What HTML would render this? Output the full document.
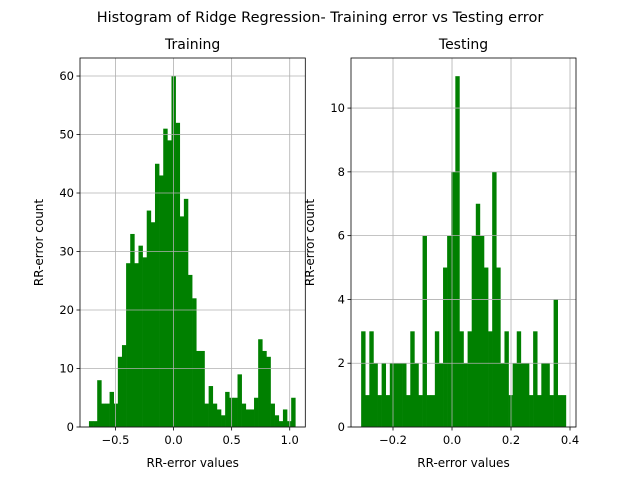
<!DOCTYPE html>
<html><head><meta charset="utf-8"><style>
body{margin:0;background:#fff;}
svg{display:block;font-family:"DejaVu Sans","Liberation Sans",sans-serif;}
</style></head><body>
<svg id="fig" width="640" height="480" viewBox="0 0 640 480" xmlns="http://www.w3.org/2000/svg">
<rect width="640" height="480" fill="#fff"/>
<text x="320" y="22" text-anchor="middle" font-size="14.5">Histogram of Ridge Regression- Training error vs Testing error</text>
</svg>
<script>
const trainCounts=[1,1,8,4,4,6,4,12,14,28,33,28,31,29,37,35,45,43,51,49,60,52,36,39,26,22,13,13,4,7,4,3,2,6,5,5,9,4,3,3,5,15,13,12,4,2,1,3,1,5];
const trainRange=[-0.728,1.048];
const trainXTicks=[-0.5,0.0,0.5,1.0];
const trainXLabels=["−0.5","0.0","0.5","1.0"];
const trainYTicks=[0,10,20,30,40,50,60];
const testCounts=[3,1,3,2,1,2,1,2,2,2,2,1,3,2,1,6,1,1,3,2,5,6,8,11,3,2,3,6,7,6,5,3,8,5,2,3,1,2,3,2,2,1,3,1,2,2,1,4,1,1];
const testRange=[-0.308,0.386];
const testXTicks=[-0.2,0.0,0.2,0.4];
const testXLabels=["−0.2","0.0","0.2","0.4"];
const testYTicks=[0,2,4,6,8,10];
const NS="http://www.w3.org/2000/svg";
const svg=document.getElementById('fig');
function mk(tag,attrs,parent){const e=document.createElementNS(NS,tag);for(const k in attrs)e.setAttribute(k,attrs[k]);(parent||svg).appendChild(e);return e;}
function panel(o){
  const g=mk('g',{});
  
  
  const L=o.x0,R=o.x1,T=58,B=427;
  const sx=v=>L+(v-o.xmin)/(o.xmax-o.xmin)*(R-L);
  const sy=v=>B-(v-o.ymin)/(o.ymax-o.ymin)*(B-T);
  const n=o.counts.length,w=(o.range[1]-o.range[0])/n;
  o.counts.forEach((c,i)=>{
    const a=sx(o.range[0]+i*w),b=sx(o.range[0]+(i+1)*w);
    const r=mk('rect',{x:a,y:sy(c),width:b-a+0.3,height:sy(0)-sy(c),fill:'#008000'},g);
    
    
  });
  o.xt.forEach((t,i)=>{
    const x=sx(t);
    const gl=mk('line',{x1:x,x2:x,y1:T,y2:B,stroke:'#b0b0b0','stroke-width':0.8},g);
    
    
    mk('line',{x1:x,x2:x,y1:B,y2:B+3.5,stroke:'#000','stroke-width':0.8},g);
    const tx=mk('text',{x:x,y:B+17,'text-anchor':'middle','font-size':11.5},g);
    tx.textContent=o.xl[i];
    
    
  });
  o.yt.forEach(t=>{
    const y=sy(t);
    const gl=mk('line',{x1:L,x2:R,y1:y,y2:y,stroke:'#b0b0b0','stroke-width':0.8},g);
    
    
    mk('line',{x1:L-3.5,x2:L,y1:y,y2:y,stroke:'#000','stroke-width':0.8},g);
    const tx=mk('text',{x:L-6,y:y+4,'text-anchor':'end','font-size':11.5},g);
    tx.textContent=String(t);
    
    
  });
  const fr=mk('rect',{x:L,y:T,width:R-L,height:B-T,fill:'none',stroke:'#000','stroke-width':0.8},g);
  
  
  const ti=mk('text',{x:(L+R)/2,y:49,'text-anchor':'middle','font-size':14},g);
  ti.textContent=o.title;
  
  
  const xl=mk('text',{x:(L+R)/2,y:467,'text-anchor':'middle','font-size':12},g);
  xl.textContent='RR-error values';
  
  
  const yx=o.ylx,yy=(T+B)/2;
  const yl=mk('text',{x:yx,y:yy,'text-anchor':'middle','font-size':12,transform:`rotate(-90 ${yx} ${yy})`},g);
  yl.textContent='RR-error count';
  
  
}
panel({name:'training-histogram',x0:80,x1:305.3,xmin:-0.805,xmax:1.134,ymin:0,ymax:63.08,counts:trainCounts,range:trainRange,xt:trainXTicks,xl:trainXLabels,yt:trainYTicks,title:'Training',ylx:43});
panel({name:'testing-histogram',x0:351,x1:576,xmin:-0.3424,xmax:0.4203,ymin:0,ymax:11.57,counts:testCounts,range:testRange,xt:testXTicks,xl:testXLabels,yt:testYTicks,title:'Testing',ylx:314});
</script>
</body></html>
